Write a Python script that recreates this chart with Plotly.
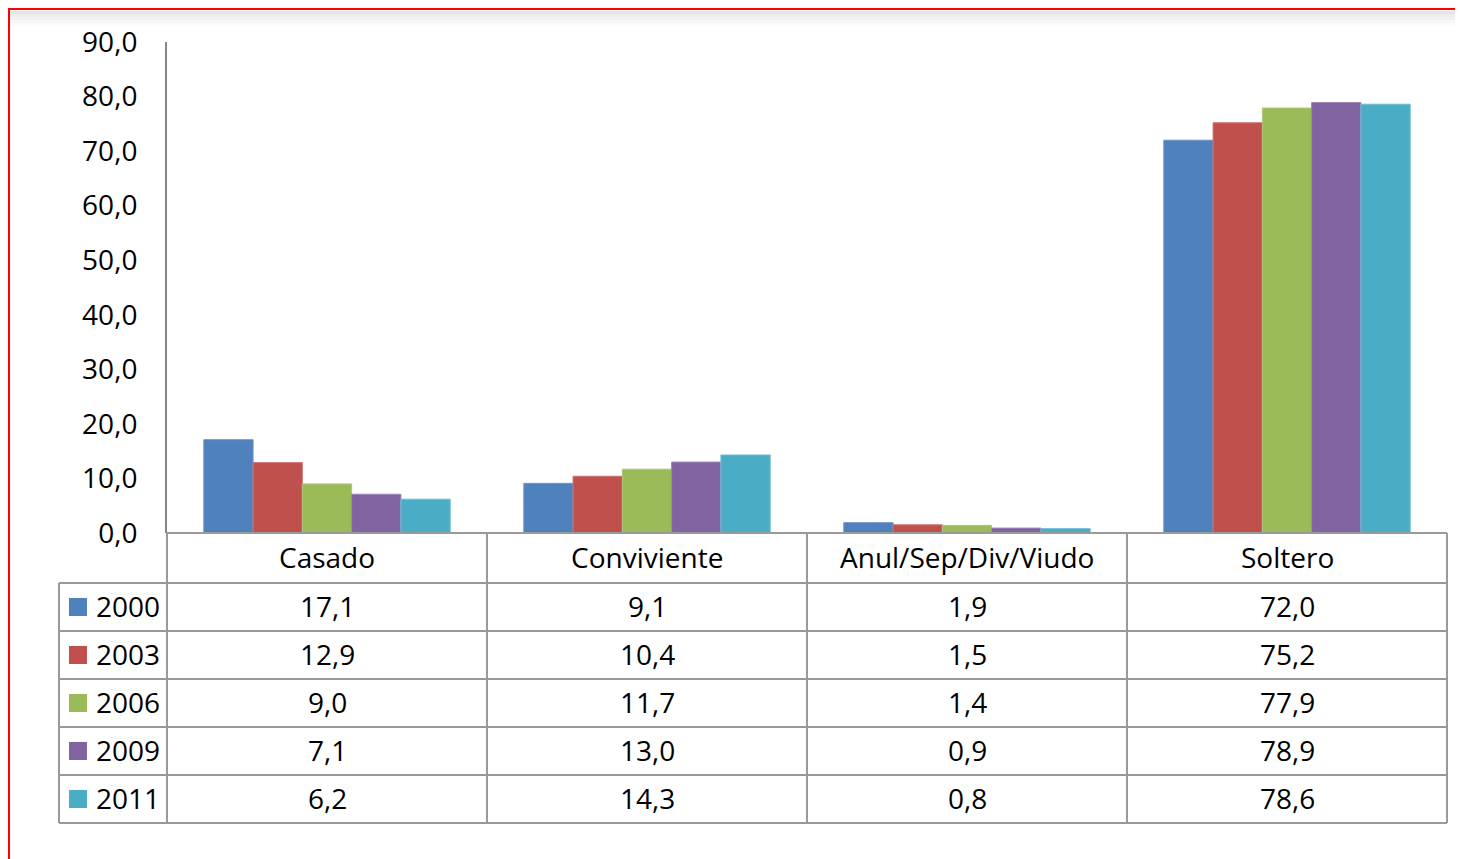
import plotly.graph_objects as go

categories = ["Casado", "Conviviente", "Anul/Sep/Div/Viudo", "Soltero"]
years = ["2000", "2003", "2006", "2009", "2011"]
v2000 = [17.1, 9.1, 1.9, 72.0]
v2003 = [12.9, 10.4, 1.5, 75.2]
v2006 = [9.0, 11.7, 1.4, 77.9]
v2009 = [7.1, 13.0, 0.9, 78.9]
v2011 = [6.2, 14.3, 0.8, 78.6]
series = [v2000, v2003, v2006, v2009, v2011]
colors = ["#4F81BD", "#C0504D", "#9BBB59", "#8064A2", "#4BACC6"]
edge_colors = ["#6E95C8", "#CC7371", "#AFC87B", "#9A84B6", "#6FBDD2"]

OFF = 8  # page body margin
PAGE_W, PAGE_H = 1463, 859
W, H = PAGE_W - OFF, PAGE_H - OFF
# page-pixel coordinates of the plot area
PL, PR, PT, PB = 167, 1447, 42, 533
FONT = "Open Sans"
FS = 28
GRID = "#9A9A9A"


def px(X):
    return (X - PL) / (PR - PL)


def py(Y):
    return (PB - Y) / (PB - PT)


fig = go.Figure()
for yr, vals, c, ec in zip(years, series, colors, edge_colors):
    fig.add_trace(go.Bar(x=categories, y=vals, name=yr, marker=dict(color=c, line=dict(color=ec, width=1)),
                         showlegend=False))

shapes = []
annotations = []

# red frame and faint shadow
for i, a in enumerate([0.10, 0.07, 0.05, 0.03, 0.015]):
    shapes.append(dict(type="rect", xref="paper", yref="paper",
                       x0=px(10), x1=px(PAGE_W + 20), y0=py(11 + i * 3), y1=py(14 + i * 3),
                       line=dict(width=0), fillcolor=f"rgba(0,0,0,{a})", layer="below"))
shapes.append(dict(type="rect", xref="paper", yref="paper", x0=px(9), x1=px(PAGE_W + 20),
                   y0=py(PAGE_H + 20), y1=py(9), line=dict(color="#FF0000", width=2)))

# table grid
row_tops = [583, 631, 679, 727, 775, 823]
shapes.append(dict(type="line", xref="paper", yref="paper", x0=px(PL), x1=px(PR), y0=py(533), y1=py(533),
                   line=dict(color=GRID, width=2)))
for Y in row_tops:
    shapes.append(dict(type="line", xref="paper", yref="paper", x0=px(59), x1=px(PR), y0=py(Y), y1=py(Y),
                       line=dict(color=GRID, width=2)))
shapes.append(dict(type="line", xref="paper", yref="paper", x0=px(59), x1=px(59), y0=py(583), y1=py(823),
                   line=dict(color=GRID, width=2)))
col_w = (PR - PL) / len(categories)
for i in range(len(categories) + 1):
    X = PL + i * col_w
    shapes.append(dict(type="line", xref="paper", yref="paper", x0=px(X), x1=px(X), y0=py(533), y1=py(823),
                       line=dict(color=GRID, width=2)))

# header labels
for i, cat in enumerate(categories):
    annotations.append(dict(x=px(PL + (i + 0.5) * col_w), y=py(557), xref="paper", yref="paper", text=cat,
                            showarrow=False, font=dict(family=FONT, size=FS, color="black"),
                            xanchor="center", yanchor="middle"))

# rows
for r, (yr, vals, c) in enumerate(zip(years, series, colors)):
    yc = 606 + r * 48
    shapes.append(dict(type="rect", xref="paper", yref="paper", x0=px(69), x1=px(87), y0=py(yc + 10),
                       y1=py(yc - 8), line=dict(width=0), fillcolor=c))
    annotations.append(dict(x=px(94), y=py(yc), xref="paper", yref="paper", text=yr, showarrow=False,
                            font=dict(family=FONT, size=FS, color="black"), xanchor="left", yanchor="middle"))
    for i, v in enumerate(vals):
        annotations.append(dict(x=px(PL + (i + 0.5) * col_w), y=py(yc), xref="paper", yref="paper",
                                text=f"{v:.1f}".replace(".", ","), showarrow=False,
                                font=dict(family=FONT, size=FS, color="black"),
                                xanchor="center", yanchor="middle"))

fig.update_layout(
    width=W, height=H, autosize=False,
    margin=dict(l=PL - OFF, r=PAGE_W - PR, t=PT - OFF, b=PAGE_H - PB, pad=0),
    paper_bgcolor="white", plot_bgcolor="white",
    barmode="group", bargap=0.23, bargroupgap=0,
    separators=",.",
    font=dict(family=FONT, size=FS, color="black"),
    shapes=shapes, annotations=annotations,
)
fig.update_xaxes(showticklabels=False, showgrid=False, zeroline=False, showline=False,
                 range=[-0.5, 3.5], ticks="")
fig.update_yaxes(range=[0, 90], dtick=10, tickformat=".1f", showgrid=False, zeroline=False,
                 showline=True, linecolor="#868686", linewidth=2, ticks="", ticklabelstandoff=22,
                 tickfont=dict(family=FONT, size=FS, color="black"))

fig.write_html("out.html")
